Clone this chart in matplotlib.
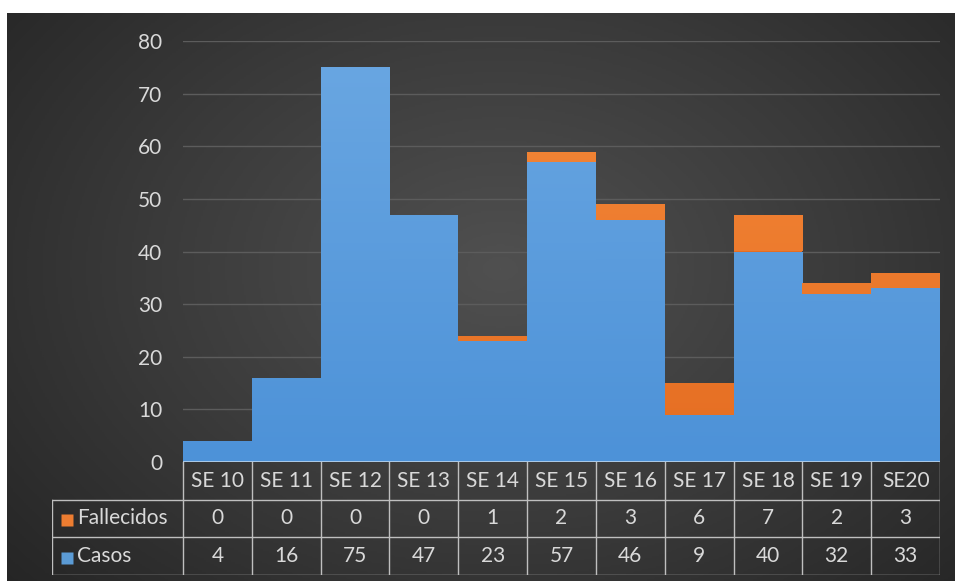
import numpy as np
import matplotlib.pyplot as plt
from matplotlib.colors import LinearSegmentedColormap

weeks = ['SE 10', 'SE 11', 'SE 12', 'SE 13', 'SE 14', 'SE 15', 'SE 16', 'SE 17', 'SE 18', 'SE 19', 'SE20']
casos = [4, 16, 75, 47, 23, 57, 46, 9, 40, 32, 33]
fallecidos = [0, 0, 0, 0, 1, 2, 3, 6, 7, 2, 3]
row_labels = ['Fallecidos', 'Casos']

W, H = 955, 581
text_col = '#d9d9d9'
fs = 15
plt.rcParams['font.family'] = ['Lato', 'DejaVu Sans']

fig = plt.figure(figsize=(W / 100, H / 100), dpi=100, facecolor='white')

# radial gradient background
ax_bg = fig.add_axes([7 / W, 0, (W - 7) / W, (H - 13) / H])
yy, xx = np.mgrid[0:1:300j, 0:1:500j]
r = np.sqrt(((xx - 0.52) / 0.75) ** 2 + ((yy - 0.45) / 0.9) ** 2)
bg_cmap = LinearSegmentedColormap.from_list('bg', ['#505050', '#3a3a3a', '#222222'])
ax_bg.imshow(np.clip(r, 0, 1), cmap=bg_cmap, aspect='auto', extent=[0, 1, 0, 1], vmin=0, vmax=1)
ax_bg.axis('off')

# main chart
x0, x1, ytop, ybot = 183, 940, 41, 462
ax = fig.add_axes([x0 / W, (H - ybot) / H, (x1 - x0) / W, (ybot - ytop) / H])
ax.set_facecolor('none')
ax.set_xlim(-0.5, len(weeks) - 0.5)
ax.set_ylim(0, 80)
ax.set_yticks(range(0, 81, 10))
ax.set_xticks([])
ax.tick_params(axis='y', length=0, pad=15, labelsize=fs, labelcolor=text_col)
for s in ax.spines.values():
    s.set_visible(False)
ax.yaxis.grid(True, color='#5c5c5c', lw=1)
ax.set_axisbelow(True)


def grad_bars(xs, heights, bottoms, top_col, bot_col):
    bars = ax.bar(xs, heights, width=1.0, bottom=bottoms, color=bot_col, lw=0, zorder=2)
    cm = LinearSegmentedColormap.from_list('g', [bot_col, top_col])
    g = np.linspace(0, 1, 100).reshape(-1, 1)
    for b in bars:
        if b.get_height() <= 0:
            continue
        im = ax.imshow(g, cmap=cm, aspect='auto', origin='lower', zorder=3,
                       extent=[b.get_x(), b.get_x() + b.get_width(), 0, 80])
        im.set_clip_path(b)
    ax.set_xlim(-0.5, len(weeks) - 0.5)
    ax.set_ylim(0, 80)
    return bars


xs = np.arange(len(weeks))
grad_bars(xs, casos, 0, '#6aa7e2', '#4d92d8')
grad_bars(xs, fallecidos, casos, '#f58a3a', '#e56d22')
ax.axhline(0, color='#bcd3ea', lw=1.2, zorder=4)

# data table
tx0 = 52
unit = (x1 - x0) / len(weeks)
left_ext = (x0 - tx0) / unit
tbl_top, tbl_bot = 462, 575
axt = fig.add_axes([tx0 / W, (H - tbl_bot) / H, (x1 - tx0) / W, (tbl_bot - tbl_top) / H])
axt.set_facecolor('none')
axt.set_xlim(-0.5 - left_ext, len(weeks) - 0.5)
axt.set_ylim(3, 0)
axt.axis('off')
lc = '#bfbfbf'
for k in range(len(weeks) + 1):
    axt.plot([k - 0.5, k - 0.5], [0, 3], color=lc, lw=1)
axt.plot([-0.5 - left_ext] * 2, [1, 3], color=lc, lw=1)
for yv in [1, 2, 3]:
    axt.plot([-0.5 - left_ext, len(weeks) - 0.5], [yv, yv], color=lc, lw=1)

for i, w in enumerate(weeks):
    axt.text(i, 0.5, w, ha='center', va='center', color=text_col, fontsize=fs)
    axt.text(i, 1.5, str(fallecidos[i]), ha='center', va='center', color=text_col, fontsize=fs)
    axt.text(i, 2.5, str(casos[i]), ha='center', va='center', color=text_col, fontsize=fs)

lab_x = -0.5 - left_ext
for j, (lab, col) in enumerate(zip(row_labels, ['#ed7d31', '#5b9bd5'])):
    axt.plot(lab_x + 15 / unit, j + 1.55, marker='s', ms=8, color=col, mec='none')
    axt.text(lab_x + 25 / unit, j + 1.5, lab, ha='left', va='center', color=text_col, fontsize=fs)

fig.savefig('out.png', dpi=100, facecolor='white')
